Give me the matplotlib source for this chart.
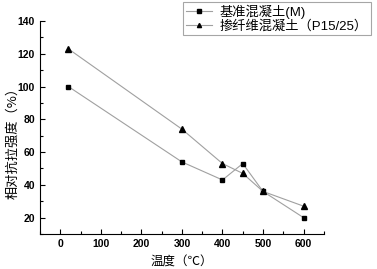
import matplotlib
matplotlib.use("Agg")
import matplotlib.pyplot as plt
from matplotlib.ticker import MultipleLocator

plt.rcParams['font.family'] = ['Liberation Sans', 'Noto Sans CJK SC', 'DejaVu Sans']

# 数据
temp = [20, 300, 400, 450, 500, 600]
base = [100, 54, 43, 53, 36, 20]
fiber = [123, 74, 53, 47, 36, 27]
labels = ['基准混凝土(M)', '掺纤维混凝土（P15/25）']

fig = plt.figure(figsize=(3.77, 2.69), dpi=100)
ax = fig.add_axes([0.106, 0.130, 0.753, 0.792])

ax.plot(temp, base, color='#a0a0a0', lw=0.8, marker='s', ms=3.5,
        mfc='black', mec='black', label=labels[0])
ax.plot(temp, fiber, color='#a0a0a0', lw=0.8, marker='^', ms=4.5,
        mfc='black', mec='black', label=labels[1])

ax.set_xlim(-50, 650)
ax.set_ylim(10, 140)
ax.xaxis.set_major_locator(MultipleLocator(100))
ax.xaxis.set_minor_locator(MultipleLocator(50))
ax.yaxis.set_minor_locator(MultipleLocator(10))
ax.set_yticks([20, 40, 60, 80, 100, 120, 140])

ax.spines['top'].set_visible(False)
ax.spines['right'].set_visible(False)
ax.spines['left'].set_linewidth(0.8)
ax.spines['bottom'].set_linewidth(0.8)
ax.tick_params(which='both', direction='in', width=0.8)
ax.tick_params(which='major', length=3.5, labelsize=7.5)
ax.tick_params(which='minor', length=2)
for t in ax.get_xticklabels() + ax.get_yticklabels():
    t.set_fontweight('bold')

ax.set_xlabel('温度（℃）', fontsize=9, family=['Noto Sans CJK SC', 'DejaVu Sans'])
ax.xaxis.set_label_coords(0.5, -0.103)
ax.set_ylabel('相对抗拉强度（%）', fontsize=9.5, family=['Noto Sans CJK SC', 'DejaVu Sans'])
ax.yaxis.set_label_coords(-0.074, 0.44)

leg = fig.legend(loc='upper left', bbox_to_anchor=(183 / 377, 1 - 2 / 269),
                 frameon=True, fancybox=False, edgecolor='#909090',
                 borderpad=0.2, labelspacing=0.05, handlelength=2.0,
                 handletextpad=0.6, borderaxespad=0,
                 prop={'family': ['Liberation Sans', 'Noto Sans CJK SC'], 'size': 9.5})
leg.get_frame().set_linewidth(0.8)
for h in leg.legend_handles:
    h.set_markersize(3)

fig.savefig('out.png', dpi=100)
